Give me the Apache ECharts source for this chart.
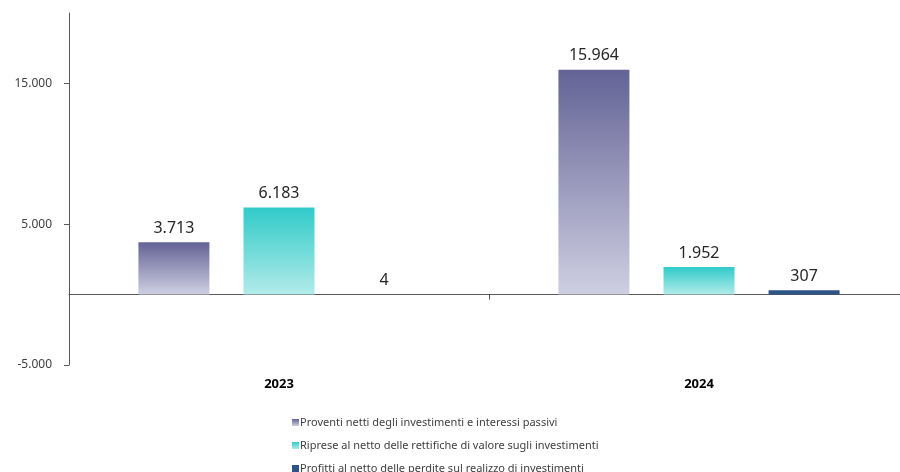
<!DOCTYPE html>
<html>
<head>
    <meta charset="utf-8">
    <title>ECharts</title>
    <script src="https://cdn.jsdelivr.net/npm/echarts@6/dist/echarts.min.js"></script>
</head>
<body style="margin:0">

<div id="main" style="width: 900px;height:472px;"></div>
<script type="text/javascript">
    // dati
    var anni = ['2023', '2024'];
    var nomiSerie = [
        'Proventi netti degli investimenti e interessi passivi',
        'Riprese al netto delle rettifiche di valore sugli investimenti',
        'Profitti al netto delle perdite sul realizzo di investimenti'
    ];
    var proventi = [3713, 15964];
    var riprese = [6183, 1952];
    var profitti = [4, 307];

    var myChart = echarts.init(document.getElementById('main'));

    function formatIt(v) {
        var s = String(Math.abs(v)).replace(/\B(?=(\d{3})+(?!\d))/g, '.');
        return (v < 0 ? '-' : '') + s;
    }

    function gradiente(top, bottom) {
        return new echarts.graphic.LinearGradient(0, 0, 0, 1, [
            { offset: 0, color: top },
            { offset: 1, color: bottom }
        ]);
    }

    var fontBase = "'Noto Sans', sans-serif";
    var etichetta = {
        show: true,
        position: 'top',
        distance: 6,
        color: '#262626',
        fontSize: 16,
        fontFamily: fontBase,
        formatter: function (p) { return formatIt(p.value); }
    };

    // una legenda per riga, così non va a capo in colonne
    var legende = nomiSerie.map(function (nome, i) {
        return {
            orient: 'vertical',
            left: 287,
            top: 412 + i * 23,
            itemWidth: 7,
            itemHeight: 7,
            icon: 'rect',
            textStyle: { fontSize: 11, color: '#404040', fontFamily: fontBase, padding: [0, 0, 0, -4] },
            data: [nome]
        };
    });

    var option = {
        animation: false,
        grid: { left: 69, top: 13, width: 840, height: 352, containLabel: false, outerBoundsMode: 'none' },
        legend: legende,
        xAxis: {
            type: 'category',
            data: anni,
            axisLine: { onZero: true, lineStyle: { color: '#595959', width: 1 } },
            axisTick: { show: true, length: 5, lineStyle: { color: '#595959' } },
            axisLabel: { margin: 13, fontSize: 13, fontWeight: 'bold', color: '#000', fontFamily: fontBase }
        },
        yAxis: {
            type: 'value',
            min: -5000,
            max: 20000,
            interval: 10000,
            splitLine: { show: false },
            axisLine: { show: true, lineStyle: { color: '#595959', width: 1 } },
            axisTick: { show: true, length: 5, lineStyle: { color: '#595959' } },
            axisLabel: {
                showMaxLabel: false,
                margin: 17,
                fontSize: 12,
                color: '#404040',
                fontFamily: fontBase,
                formatter: formatIt
            }
        },
        series: [
            {
                name: nomiSerie[0],
                type: 'bar',
                barWidth: 71,
                barGap: '48%',
                data: proventi,
                itemStyle: { color: gradiente('#636396', '#cfcfe2') },
                label: etichetta
            },
            {
                name: nomiSerie[1],
                type: 'bar',
                barWidth: 71,
                barGap: '48%',
                data: riprese,
                itemStyle: { color: gradiente('#30cbc9', '#b2ebe9') },
                label: etichetta
            },
            {
                name: nomiSerie[2],
                type: 'bar',
                barWidth: 71,
                barGap: '48%',
                data: profitti,
                itemStyle: { color: '#2e5387' },
                label: etichetta
            }
        ]
    };
    myChart.setOption(option);
</script>
</body>
</html>
